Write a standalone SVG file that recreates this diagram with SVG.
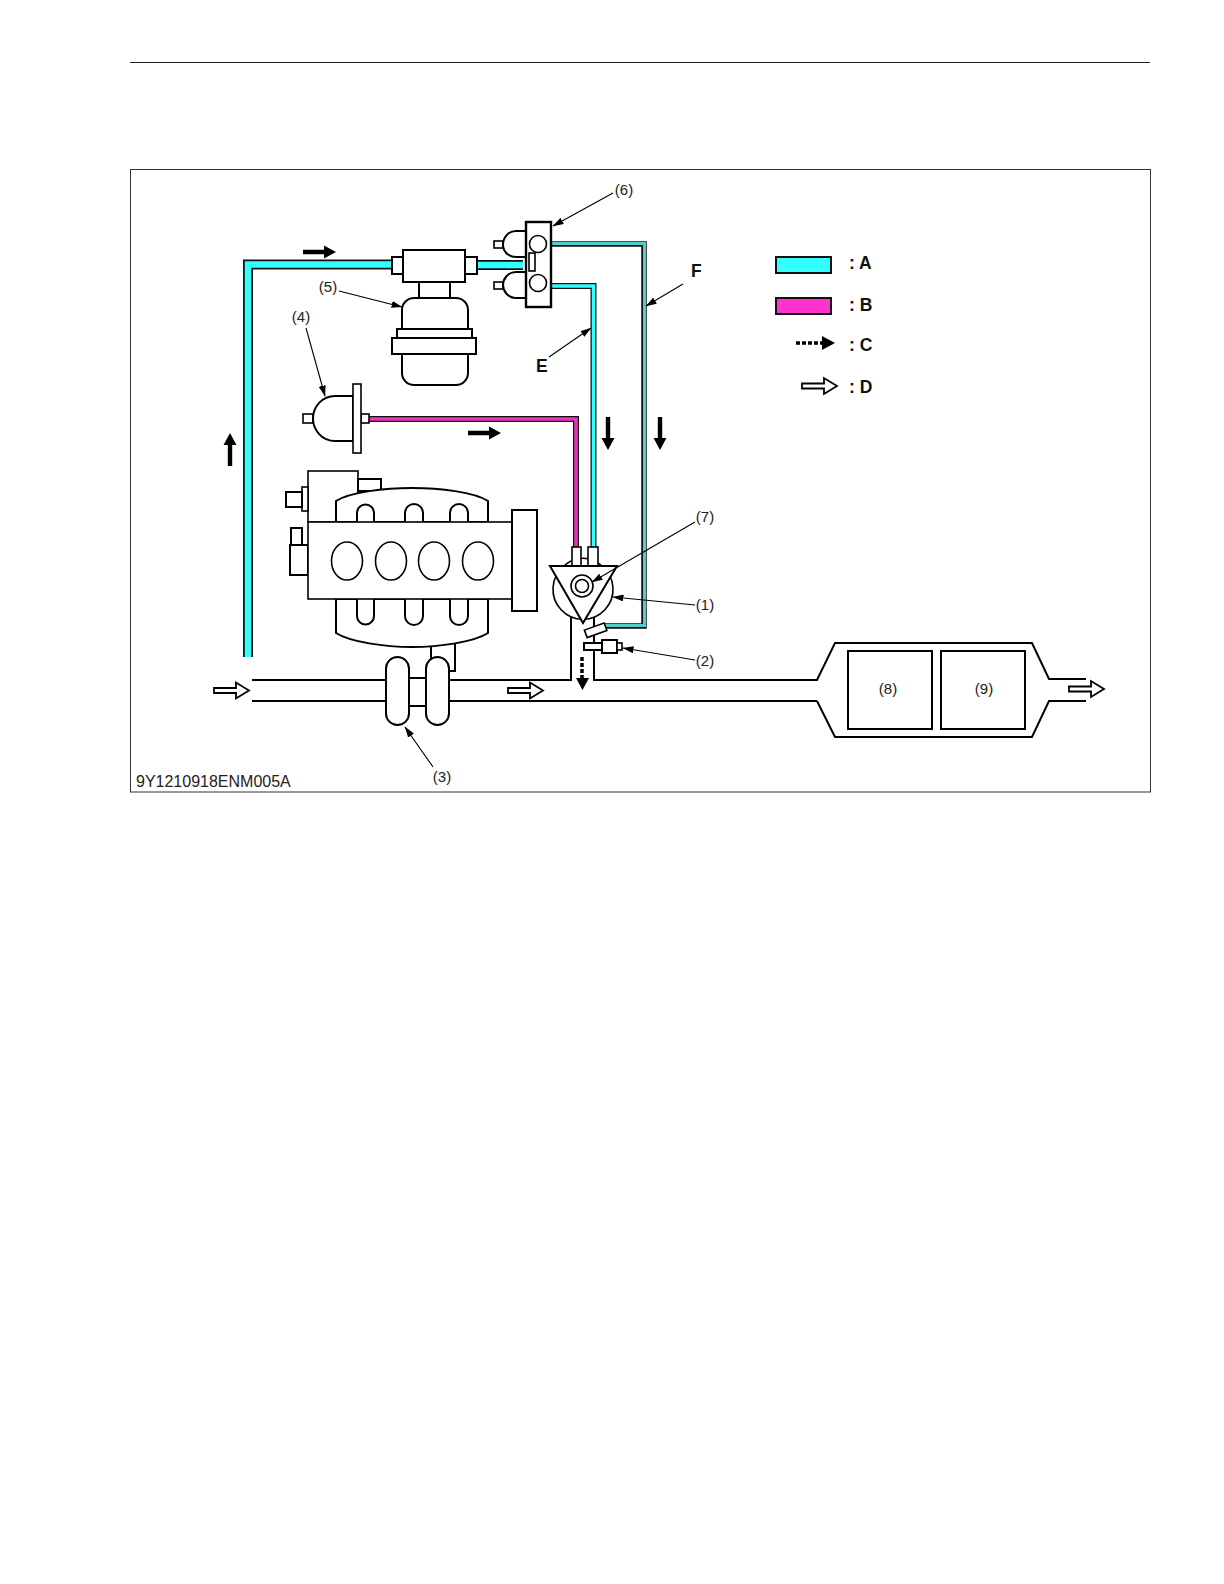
<svg xmlns="http://www.w3.org/2000/svg" width="1224" height="1584" viewBox="0 0 1224 1584">
<style>
text{font-family:"Liberation Sans",Arial,sans-serif;fill:#222}
.n{font-size:15px;text-anchor:middle}
.b{font-size:17.500px;font-weight:bold;fill:#111}
.s{fill:#fff;stroke:#000;stroke-width:1.6}
.h{fill:#fff;stroke:#000;stroke-width:2}
.l{fill:none;stroke:#000;stroke-width:2}
.t{fill:none;stroke:#000;stroke-width:1.100}
.po{fill:none;stroke:#111;stroke-linejoin:miter}
.pa{fill:none;stroke:#33ffff}
.pb{fill:none;stroke:#ee33bb}
.af{fill:#000}
.ad{fill:#fff;stroke:#000;stroke-width:1.800}
</style>
<defs>
<marker id="lh" markerWidth="11" markerHeight="7" refX="10.500" refY="3.500" orient="auto" markerUnits="userSpaceOnUse"><path d="M0 0L11 3.500L0 7Z" fill="#000"/></marker>
<path id="solid" d="M0-2.200H21V-6.500L33 0L21 6.500V2.200H0Z" fill="#000"/>
<path id="hollow" d="M0-2.500H22V-8L35 0L22 8V2.500H0Z" class="ad"/>
</defs>
<line x1="130" y1="62.500" x2="1150" y2="62.500" stroke="#222" stroke-width="1"/>
<rect x="130.500" y="169.500" width="1020" height="622.500" fill="none" stroke="#333" stroke-width="1"/>

<g id="connectors">
<path class="po" stroke-width="10" d="M248 657V264.500H395"/><path class="pa" stroke-width="6.500" d="M248 657V264.500H395"/>
<path class="po" stroke-width="10" d="M470 265H523"/><path class="pa" stroke-width="6.500" d="M470 265H523"/>
<path class="po" stroke-width="5.500" d="M550 244H644V626H604"/><path stroke="#55cccc" fill="none" stroke-width="3" d="M550 243.500H644.500V625.500H604"/>
<path class="po" stroke-width="6" d="M550 286H593.500V548"/><path class="pa" stroke-width="3.500" d="M550 286H593.500V548"/>
<path class="po" stroke-width="6" d="M368 419H576V548"/><path class="pb" stroke-width="3.500" d="M368 419H576V548"/>
<use href="#solid" transform="translate(303 252)"/>
<use href="#solid" transform="translate(468 433)"/>
<use href="#solid" transform="translate(608 417) rotate(90)"/>
<use href="#solid" transform="translate(660 417) rotate(90)"/>
<use href="#solid" transform="translate(230 466) rotate(-90)"/>
<path d="M582 657V679" stroke="#000" stroke-width="3.500" stroke-dasharray="4 2" fill="none"/>
<path class="af" d="M576 678H589L582.500 690Z"/>
<use href="#hollow" transform="translate(214 690.500)"/>
<use href="#hollow" transform="translate(508 690.500)"/>
<use href="#hollow" transform="translate(1069 689)"/>
</g>

<g id="node-5">
<rect class="h" x="419" y="282" width="31" height="17"/>
<rect class="h" x="392" y="257" width="11" height="17" stroke-width="1.300"/>
<rect class="h" x="465" y="257" width="12" height="17" stroke-width="1.300"/>
<rect class="h" x="403" y="250" width="62" height="32"/>
<rect class="h" x="402" y="298" width="66" height="87" rx="12"/>
<rect class="h" x="397" y="329" width="75" height="9"/>
<rect class="h" x="392" y="338" width="84" height="16"/>
<text class="n" x="328" y="292">(5)</text>
</g>
<g id="node-4">
<rect class="s" x="303" y="414" width="10" height="9"/>
<rect class="s" x="361" y="414" width="8" height="9"/>
<path class="h" d="M353 396H335C322 396 313 407 313 418.500C313 430 322 441 335 441H353Z"/>
<rect class="s" x="353" y="384" width="8" height="69"/>
<text class="n" x="301" y="322">(4)</text>
</g>
<g id="node-6">
<rect class="s" x="494" y="241" width="9" height="7"/>
<rect class="s" x="494" y="282" width="9" height="7"/>
<path class="h" d="M526 231H516C508 231 503 238 503 244.500C503 251 508 257 516 257H526Z"/>
<path class="h" d="M526 272H516C508 272 503 279 503 285C503 291 508 298 516 298H526Z"/>
<rect x="526" y="222" width="25" height="85" fill="#fff" stroke="#000" stroke-width="2.400"/>
<circle class="s" cx="538" cy="244" r="8.500"/>
<circle class="s" cx="538" cy="283" r="8.500"/>
<rect class="s" x="529" y="253" width="6" height="18"/>
<text class="n" x="624" y="195">(6)</text>
</g>
<g id="node-engine">
<rect class="s" x="308" y="471" width="50" height="51"/>
<rect class="h" x="358" y="479" width="23" height="12"/>
<rect class="s" x="302" y="487" width="6" height="24"/>
<rect class="h" x="286" y="492" width="16" height="15"/>
<rect class="h" x="291" y="528" width="11" height="17"/>
<rect class="h" x="290" y="545" width="18" height="30"/>
<rect class="h" x="431" y="640" width="24" height="31"/>
<path class="h" d="M336 522V501C350 492 385 488 412 488C440 488 474 492 488 501V522Z"/>
<path class="h" d="M336 599V633C350 642 385 647 412 647C440 647 474 642 488 633V599Z"/>
<path class="h" d="M357 522V513a8.500 8.500 0 0 1 17 0V522M405 522V513a9 9 0 0 1 18 0V522M450 522V513a9 9 0 0 1 18 0V522"/>
<path class="h" d="M357 599V616a8.500 8.500 0 0 0 17 0V599M405 599V616a9 9 0 0 0 18 0V599M450 599V616a9 9 0 0 0 18 0V599"/>
<rect class="s" x="308" y="522" width="204" height="77"/>
<rect class="h" x="512" y="510" width="25" height="101"/>
<ellipse class="s" cx="347" cy="561" rx="15.500" ry="19"/>
<ellipse class="s" cx="391" cy="561" rx="15.500" ry="19"/>
<ellipse class="s" cx="434" cy="561" rx="15.500" ry="19"/>
<ellipse class="s" cx="478" cy="561" rx="15.500" ry="19"/>
</g>
<g id="node-pipe">
<path class="l" d="M252 680H386M252 701H386M449 680H571V615M449 701H817M594 615V680H817L835 643H1032L1049 679H1086M817 701L835 737H1032L1049 701H1086M409 678H426M409 706H426"/>
</g>
<g id="node-3">
<rect class="h" x="386" y="657" width="23" height="68" rx="11.500"/>
<rect class="h" x="426" y="657" width="23" height="68" rx="11.500"/>
<text class="n" x="442" y="782">(3)</text>
</g>
<g id="node-1">
<path class="s" d="M564 566a30 30 0 1 0 38 0"/>
<path class="s" d="M564 566a27 27 0 0 1 38 0"/>
<rect class="s" x="572" y="547" width="9" height="19"/>
<rect class="s" x="588" y="547" width="10" height="19"/>
<path class="h" d="M550 566H617L583 623Z"/>
<circle class="s" cx="582" cy="586" r="11"/>
<circle class="s" cx="582" cy="586" r="6.500"/>
<rect class="s" x="585" y="626.500" width="21" height="8" transform="rotate(-20 595 630)"/>
<text class="n" x="705" y="610">(1)</text>
<text class="n" x="705" y="522">(7)</text>
</g>
<g id="node-2">
<rect class="h" x="584" y="643" width="18" height="7"/>
<rect class="h" x="602" y="640" width="15" height="13"/>
<rect class="s" x="617" y="643" width="5" height="7"/>
<text class="n" x="705" y="666">(2)</text>
</g>
<g id="node-8"><rect class="h" x="848" y="651" width="84" height="78"/><text class="n" x="888" y="694">(8)</text></g>
<g id="node-9"><rect class="h" x="941" y="651" width="84" height="78"/><text class="n" x="984" y="694">(9)</text></g>
<g id="leaders" class="t">
<path d="M339 291L402 307" marker-end="url(#lh)"/>
<path d="M306 328L325 396" marker-end="url(#lh)"/>
<path d="M613 193L553 226" marker-end="url(#lh)"/>
<path d="M549 357L591 328" marker-end="url(#lh)"/>
<path d="M683 284L646 306" marker-end="url(#lh)"/>
<path d="M695 522L592 582" marker-end="url(#lh)"/>
<path d="M695 605L613 597" marker-end="url(#lh)"/>
<path d="M695 660L623 648" marker-end="url(#lh)"/>
<path d="M433 767L405 727" marker-end="url(#lh)"/>
</g>
<g id="labels">
<text class="b" x="536" y="372">E</text>
<text class="b" x="691" y="277">F</text>
<text x="136" y="787" font-size="16">9Y1210918ENM005A</text>
</g>
<g id="legend">
<rect x="776" y="257" width="55" height="16" fill="#33ffff" stroke="#111" stroke-width="2"/>
<rect x="776" y="298" width="55" height="16" fill="#ff33cc" stroke="#111" stroke-width="2"/>
<path d="M796 343H823" stroke="#000" stroke-width="3.500" stroke-dasharray="4 2" fill="none"/>
<path class="af" d="M822 336L835 343L822 350Z"/>
<use href="#hollow" transform="translate(802 386)"/>
<text class="b" x="849" y="269">: A</text>
<text class="b" x="849" y="311">: B</text>
<text class="b" x="849" y="351">: C</text>
<text class="b" x="849" y="393">: D</text>
</g>
</svg>
